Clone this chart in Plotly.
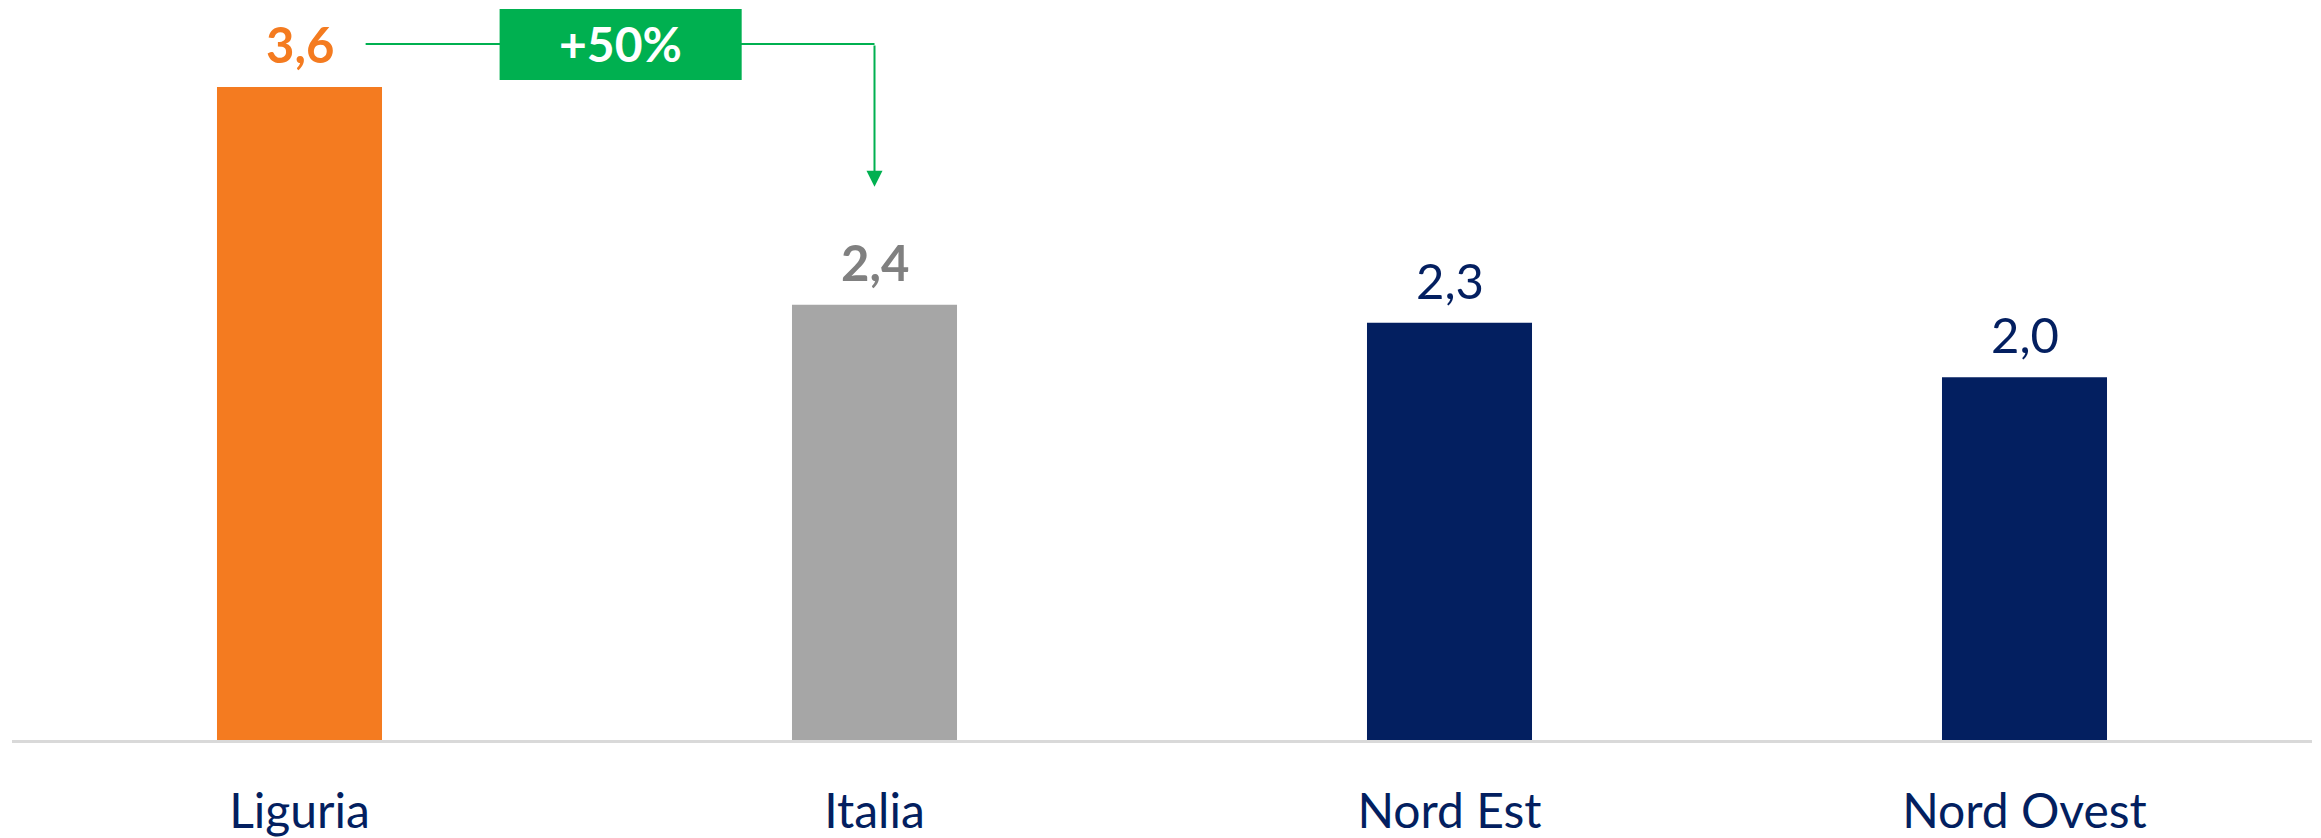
import plotly.graph_objects as go

# data
regions = ["Liguria", "Italia", "Nord Est", "Nord Ovest"]
values = [3.6, 2.4, 2.3, 2.0]
value_labels = ["3,6", "2,4", "2,3", "2,0"]

ORANGE = "#F47B20"
GREY_BAR = "#A6A6A6"
GREY_TXT = "#808080"
NAVY = "#031F60"
GREEN = "#00B050"
FONT = "Lato"

bar_colors = [ORANGE, GREY_BAR, NAVY, NAVY]
label_colors = [ORANGE, GREY_TXT, NAVY, NAVY]
label_bold = [True, True, False, False]

# page has 8px body margin -> shift the figure accordingly
W, H = 2305, 830
px_per_unit = 181.4  # pixels per unit on y
plot_h = 732
y_max = plot_h / px_per_unit

fig = go.Figure()
fig.add_bar(x=list(range(len(regions))), y=values, marker=dict(color=bar_colors, line=dict(width=0)),
            width=0.287, hoverinfo="skip")

# value labels above bars
for i, (v, lab) in enumerate(zip(values, value_labels)):
    txt = f"<b>{lab}</b>" if label_bold[i] else lab
    fig.add_annotation(x=i, y=v, text=txt, showarrow=False, yanchor="middle", yshift=43,
                       font=dict(family=FONT, size=49, color=label_colors[i]))

# +50% connector from Liguria to Italia
pct = round((values[0] / values[1] - 1) * 100)
line_y = values[0] + 43 / px_per_unit
tip_y = values[1] + 118 / px_per_unit
fig.add_scatter(x=[0.115, 1.0], y=[line_y, line_y], mode="lines",
                line=dict(color=GREEN, width=2), hoverinfo="skip", showlegend=False)
fig.add_annotation(x=1.0, y=tip_y, ax=1.0, ay=line_y, axref="x", ayref="y", xref="x", yref="y",
                   text="", showarrow=True, arrowhead=2, arrowsize=1.6, arrowwidth=2, arrowcolor=GREEN)
box_x0, box_x1 = 0.348, 0.769
fig.add_shape(type="rect", x0=box_x0, x1=box_x1, y0=line_y - 36 / px_per_unit, y1=line_y + 35 / px_per_unit,
              fillcolor=GREEN, line=dict(width=0), layer="above")
fig.add_annotation(x=(box_x0 + box_x1) / 2, y=line_y, text=f"<b>+{pct}%</b>", showarrow=False,
                   font=dict(family=FONT, size=48, color="white"))

fig.update_layout(
    width=W, height=H,
    margin=dict(l=4, r=1, t=0, b=H - plot_h, pad=0, autoexpand=False),
    plot_bgcolor="white", paper_bgcolor="white",
    showlegend=False,
    font=dict(family=FONT),
    xaxis=dict(tickmode="array", tickvals=list(range(len(regions))), ticktext=regions,
               range=[-0.5, len(regions) - 0.5], showgrid=False, zeroline=False, automargin=False,
               showline=True, linecolor="#D9D9D9", linewidth=3, ticks="",
               ticklabelstandoff=27, tickfont=dict(family=FONT, size=48, color=NAVY)),
    yaxis=dict(range=[0, y_max], visible=False, showgrid=False, zeroline=False, automargin=False),
)

fig.write_html("out.html")
